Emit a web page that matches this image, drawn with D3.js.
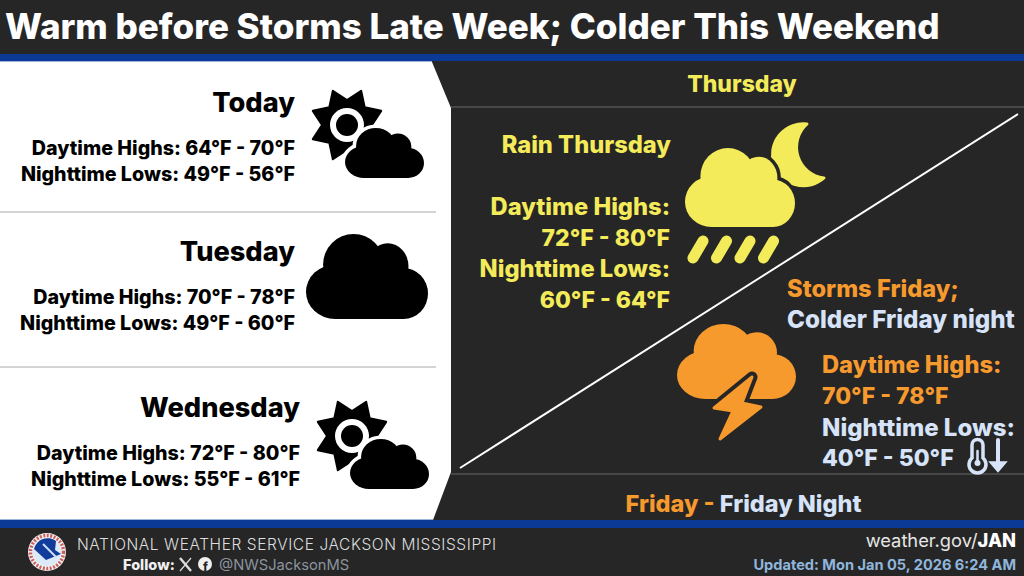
<!DOCTYPE html>
<html>
<head>
<meta charset="utf-8">
<script src="https://cdn.jsdelivr.net/npm/d3@7"></script>
<style>
  html, body { margin: 0; padding: 0; background: #262626; }
  svg { display: block; }
  text { font-family: Inter, "Noto Sans", sans-serif; font-weight: 800; }
</style>
</head>
<body>
<svg id="chart" width="1024" height="576"></svg>
<script>
const titleText = "Warm before Storms Late Week; Colder This Weekend";
const days = ["Today", "Tuesday", "Wednesday"];
const dayHighMin = [64, 70, 72];
const dayHighMax = [70, 78, 80];
const dayLowMin = [49, 49, 55];
const dayLowMax = [56, 60, 61];
const dayIcons = ["partly", "cloud", "partly"];

const thuHigh = [72, 80];
const thuLow = [60, 64];
const friHigh = [70, 78];
const friLow = [40, 50];

const range = (a) => a[0] + "°F - " + a[1] + "°F";

const BG = "#262626", YELLOW = "#f4eb5a", ORANGE = "#f79a2e", ICE = "#d6e3f8", BLUE = "#0a3a96";
const W = 1024, H = 576;
const svg = d3.select("#chart").attr("viewBox", "0 0 " + W + " " + H);

//row layouts for left panel
const rowBase = d3.scaleOrdinal(days, [112, 261, 417]);
const rowRight = d3.scaleOrdinal(days, [295, 295, 300]);

//background + bands
svg.append("rect").attr("width", W).attr("height", H).attr("fill", BG);
svg.append("polygon").attr("points", "0,62 432,62 451,108 451,472 433,520 0,520").attr("fill", "#fff");
svg.append("rect").attr("y", 54).attr("width", W).attr("height", 7).attr("fill", BLUE);
svg.append("rect").attr("y", 61).attr("width", 432).attr("height", 1).attr("fill", "#9db7dc");
svg.append("rect").attr("y", 520).attr("width", W).attr("height", 8).attr("fill", BLUE);
svg.append("rect").attr("y", 519).attr("width", 433).attr("height", 1).attr("fill", "#9db7dc");

[[451, 107], [451, 474]].forEach(d => {
  svg.append("line").attr("x1", d[0]).attr("x2", W).attr("y1", d[1]).attr("y2", d[1])
    .attr("stroke", "#474747").attr("stroke-width", 2);
});
[212, 367].forEach(y => {
  svg.append("line").attr("x1", 0).attr("x2", 436).attr("y1", y).attr("y2", y)
    .attr("stroke", "#a8a8a8").attr("stroke-width", 1);
});
svg.append("line").attr("x1", 460).attr("y1", 468).attr("x2", 1018).attr("y2", 114)
  .attr("stroke", "#fff").attr("stroke-width", 2);

function label(str, x, y, size, fill, anchor) {
  return svg.append("text").attr("x", x).attr("y", y).attr("font-size", size)
    .attr("fill", fill).attr("text-anchor", anchor || "start").text(str);
}

label(titleText, 5, 39, 35, "#fff");

//left panel text
days.forEach((d, i) => {
  const r = rowRight(d), b = rowBase(d);
  label(d, r, b, 27.2, "#000", "end");
  label("Daytime Highs: " + range([dayHighMin[i], dayHighMax[i]]), r, b + 43, 19.7, "#000", "end");
  label("Nighttime Lows: " + range([dayLowMin[i], dayLowMax[i]]), r, b + 69, 19.7, "#000", "end");
});

//right panel text
label("Thursday", 742, 92, 23, YELLOW, "middle");
label("Rain Thursday", 671, 153, 23.7, YELLOW, "end");
label("Daytime Highs:", 670, 215, 23.7, YELLOW, "end");
label(range(thuHigh), 670, 246, 23, YELLOW, "end");
label("Nighttime Lows:", 670, 277, 23.7, YELLOW, "end");
label(range(thuLow), 670, 308, 23, YELLOW, "end");

label("Storms Friday;", 787, 297, 23.7, ORANGE);
label("Colder Friday night", 787, 328, 24.2, ICE);
label("Daytime Highs:", 822, 373, 23.7, ORANGE);
label(range(friHigh), 822, 404, 23, ORANGE);
label("Nighttime Lows:", 822, 436, 24, ICE);
label(range(friLow), 822, 466, 23, ICE);

const fri = svg.append("text").attr("x", 743.5).attr("y", 512).attr("font-size", 23.5).attr("text-anchor", "middle");
fri.append("tspan").attr("fill", ORANGE).text("Friday - ");
fri.append("tspan").attr("fill", ICE).text("Friday Night");

//cloud = ellipses + body, normalised to box x,y,w,h
const cloudParts = [[.24, .68, .24, .32], [.39, .36, .25, .36], [.67, .38, .17, .27], [.80, .70, .20, .30]];
function cloud(g, x, y, w, h, fill, gap) {
  const draw = (stroke) => {
    const c = g.append("g").attr("fill", fill);
    if (stroke) c.attr("fill", gap).attr("stroke", gap).attr("stroke-width", stroke);
    cloudParts.forEach(p => {
      c.append("ellipse").attr("cx", x + p[0] * w).attr("cy", y + p[1] * h)
        .attr("rx", p[2] * w).attr("ry", p[3] * h);
    });
    c.append("rect").attr("x", x + .24 * w).attr("y", y + .4 * h).attr("width", .56 * w).attr("height", .6 * h);
  };
  if (gap) draw(7);
  draw(0);
}

function sun(g, cx, cy) {
  const n = 8, pts = [];
  d3.range(n * 2).forEach(i => {
    const a = i * Math.PI / n - Math.PI / 2 + Math.PI / n;
    const r = i % 2 ? 25 : 37;
    pts.push([cx + r * Math.cos(a), cy + r * Math.sin(a)]);
  });
  g.append("path").attr("d", d3.line()(pts) + "Z").attr("fill", "#000")
    .attr("stroke", "#000").attr("stroke-width", 2).attr("stroke-linejoin", "round");
  g.append("circle").attr("cx", cx).attr("cy", cy).attr("r", 17).attr("fill", "#fff");
  g.append("circle").attr("cx", cx).attr("cy", cy).attr("r", 11).attr("fill", "#000");
}

//left icons
const iconX = d3.scaleOrdinal(days, [0, 0, 5]);
const iconY = d3.scaleOrdinal(days, [0, 0, 311]);
days.forEach((d, i) => {
  const g = svg.append("g");
  if (dayIcons[i] === "partly") {
    sun(g, 347 + iconX(d), 125 + iconY(d));
    cloud(g, 345 + iconX(d), 128 + iconY(d), 79, 50, "#000", "#fff");
  } else {
    cloud(g, 306, 234, 122, 85, "#000");
  }
});

//thursday icon
const thu = svg.append("g");
thu.append("path").attr("d", "M807,124 A31,31 0 1 0 824,178 A31,31 0 0 1 807,124Z")
  .attr("fill", YELLOW).attr("stroke", YELLOW).attr("stroke-width", 3).attr("stroke-linejoin", "round");
cloud(thu, 685, 148, 110, 79, YELLOW, BG);
d3.range(4).forEach(i => {
  thu.append("line").attr("x1", 703 + i * 23.5).attr("y1", 241).attr("x2", 693 + i * 23.5).attr("y2", 258)
    .attr("stroke", YELLOW).attr("stroke-width", 11).attr("stroke-linecap", "round");
});

//friday icon
const frI = svg.append("g");
cloud(frI, 677, 324, 119, 75, ORANGE);
const bolt = "M752,377 L714,408 L733,411 L720,439 L761,407 L742,403 Z";
frI.append("path").attr("d", bolt).attr("fill", BG).attr("stroke", BG).attr("stroke-width", 11).attr("stroke-linejoin", "round");
frI.append("path").attr("d", bolt).attr("fill", ORANGE).attr("stroke", ORANGE).attr("stroke-width", 3).attr("stroke-linejoin", "round");

//thermometer + arrow
const th = svg.append("g").attr("fill", "none").attr("stroke", ICE).attr("stroke-width", 3.5).attr("stroke-linecap", "round");
th.append("path").attr("d", "M972,458 V445 A5.5,5.5 0 0 1 983,445 V458 A8.5,8.5 0 1 1 972,458Z");
th.append("circle").attr("cx", 977.5).attr("cy", 463).attr("r", 3).attr("fill", ICE).attr("stroke", "none");
th.append("line").attr("x1", 977.5).attr("x2", 977.5).attr("y1", 451).attr("y2", 462).attr("stroke-width", 2.5);
th.append("line").attr("x1", 998).attr("x2", 998).attr("y1", 440).attr("y2", 465).attr("stroke-width", 4);
th.append("path").attr("d", "M992,463 H1004 L998,470Z").attr("fill", ICE);

//footer logo
const logo = svg.append("g");
logo.append("circle").attr("cx", 47).attr("cy", 552).attr("r", 19).attr("fill", "#f4f4f4");
logo.append("circle").attr("cx", 47).attr("cy", 552).attr("r", 16.5).attr("fill", "none")
  .attr("stroke", "#c9615e").attr("stroke-width", 3.5).attr("stroke-dasharray", "2 1.5");
logo.append("circle").attr("cx", 47).attr("cy", 552).attr("r", 14).attr("fill", "#dce9f6");
logo.append("path").attr("d", "M34,549 A14,14 0 0 1 56,541 L55,550 L61,554 L46,560 Z").attr("fill", "#123c9c");
logo.append("line").attr("x1", 43).attr("y1", 544).attr("x2", 56).attr("y2", 557).attr("stroke", "#cfe0f2").attr("stroke-width", 2);

//footer text
function foot(str, x, y, size, fill, weight, anchor) {
  return label(str, x, y, size, fill, anchor).style("font-weight", weight);
}
foot("NATIONAL WEATHER SERVICE JACKSON MISSISSIPPI", 77, 550, 15.5, "#dedede", 300).attr("letter-spacing", 0.58);
foot("Follow:", 123, 570, 14.5, "#f0f0f0", 800);
foot("@NWSJacksonMS", 219, 570, 14.7, "#8b949e", 400);
const xm = svg.append("g").attr("stroke", "#ddd").attr("fill", "none");
xm.append("line").attr("x1", 180).attr("y1", 558).attr("x2", 191).attr("y2", 571).attr("stroke-width", 2.5);
xm.append("line").attr("x1", 191).attr("y1", 558).attr("x2", 180).attr("y2", 571).attr("stroke-width", 1.2);
svg.append("circle").attr("cx", 205).attr("cy", 564).attr("r", 7).attr("fill", "#f0f0f0");
label("f", 203, 571, 12, BG);

const site = svg.append("text").attr("x", 1016).attr("y", 547).attr("font-size", 18.3).attr("text-anchor", "end").attr("fill", "#e6e6e6");
site.append("tspan").style("font-weight", 400).text("weather.gov/");
site.append("tspan").style("font-weight", 800).attr("fill", "#fff").text("JAN");
foot("Updated: Mon Jan 05, 2026 6:24 AM", 1016, 570, 14.6, "#8fb6dc", 700, "end");
</script>
</body>
</html>
